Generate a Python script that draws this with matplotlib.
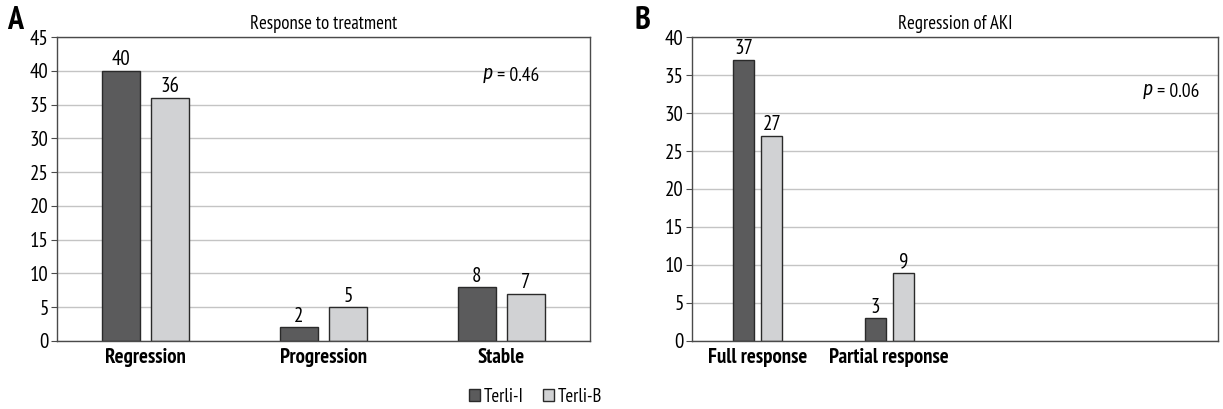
import matplotlib
matplotlib.use("Agg")
import matplotlib.pyplot as plt
from matplotlib.patches import Patch
import numpy as np

plt.rcParams['font.family'] = ['PT Sans Narrow', 'DejaVu Sans']
plt.rcParams['mathtext.fontset'] = 'custom'
plt.rcParams['mathtext.it'] = 'Fira Sans Condensed:italic'
plt.rcParams['mathtext.rm'] = 'PT Sans Narrow'

series_names = ["Terli-I", "Terli-B"]
colors = ["#5b5b5c", "#d1d2d4"]

a_title = "Response to treatment"
a_categories = ["Regression", "Progression", "Stable"]
a_terli_i = [40, 2, 8]
a_terli_b = [36, 5, 7]
a_yticks = [0, 5, 10, 15, 20, 25, 30, 35, 40, 45]
a_p = "0.46"

b_title = "Regression of AKI"
b_categories = ["Full response", "Partial response"]
b_terli_i = [37, 3]
b_terli_b = [27, 9]
b_yticks = [0, 5, 10, 15, 20, 25, 30, 35, 40]
b_p = "0.06"

fig = plt.figure(figsize=(12.23, 4.09), dpi=100)
axA = fig.add_axes([0.0466, 0.1663, 0.4358, 0.7432])
axB = fig.add_axes([0.5658, 0.1663, 0.4301, 0.7432])

def style(ax, yticks):
    ax.set_ylim(yticks[0], yticks[-1])
    ax.set_yticks(yticks)
    ax.yaxis.grid(True, color="#c4c4c4", linewidth=1.0)
    ax.set_axisbelow(True)
    for s in ax.spines.values():
        s.set_color("#4a4a4a")
        s.set_linewidth(1.0)
    ax.tick_params(axis='y', direction='out', length=4, color="#4a4a4a",
                   labelsize=15, pad=2)
    ax.tick_params(axis='x', length=0, labelsize=15, pad=5)
    for lab in ax.get_xticklabels():
        lab.set_fontweight('bold')

def p_text(ax, xpos, ypos, val):
    t = ax.text(xpos, ypos, "$p$", fontsize=14, ha="left", va="center")
    ax.annotate(" = " + val, xy=(1, 0.5), xycoords=t, fontsize=14, ha="left", va="center")

# Panel A
x = np.arange(len(a_categories)) + 0.5
w = 0.215
off = 0.138
bA1 = axA.bar(x - off, a_terli_i, w, color=colors[0], edgecolor="#2a2a2a", linewidth=1)
bA2 = axA.bar(x + off, a_terli_b, w, color=colors[1], edgecolor="#2a2a2a", linewidth=1)
axA.set_xlim(0, len(a_categories))
axA.set_xticks(x)
axA.set_xticklabels(a_categories)
style(axA, a_yticks)
for bars in (bA1, bA2):
    for r in bars:
        axA.annotate(f"{int(r.get_height())}", (r.get_x() + r.get_width() / 2, r.get_height()),
                     xytext=(0, 1), textcoords="offset points", ha="center", va="bottom",
                     fontsize=15)
p_text(axA, 2.39, 39.3, a_p)
axA.set_title(a_title, fontsize=13.5, pad=6)

# Panel B
xb = np.arange(len(b_categories)) + 0.5
wb = 0.16
offb = 0.107
bB1 = axB.bar(xb - offb, b_terli_i, wb, color=colors[0], edgecolor="#2a2a2a", linewidth=1)
bB2 = axB.bar(xb + offb, b_terli_b, wb, color=colors[1], edgecolor="#2a2a2a", linewidth=1)
axB.set_xlim(0, 4)
axB.set_xticks(xb)
axB.set_xticklabels(b_categories)
style(axB, b_yticks)
for bars in (bB1, bB2):
    for r in bars:
        axB.annotate(f"{int(r.get_height())}", (r.get_x() + r.get_width() / 2, r.get_height()),
                     xytext=(0, 1), textcoords="offset points", ha="center", va="bottom",
                     fontsize=15)
p_text(axB, 3.42, 32.8, b_p)
axB.set_title(b_title, fontsize=13.5, pad=6)

fig.text(0.006, 0.948, "A", fontsize=23, fontweight="bold", va="center", ha="left")
fig.text(0.519, 0.948, "B", fontsize=23, fontweight="bold", va="center", ha="left")

handles = [Patch(facecolor=colors[0], edgecolor="#2a2a2a", label=series_names[0]),
           Patch(facecolor=colors[1], edgecolor="#2a2a2a", label=series_names[1])]
fig.legend(handles=handles, loc="center", bbox_to_anchor=(0.438, 0.03), ncol=2,
           frameon=False, fontsize=13.5, handlelength=0.6, handleheight=0.6,
           handletextpad=0.2, columnspacing=1.0)

fig.savefig("out.png", dpi=100)
